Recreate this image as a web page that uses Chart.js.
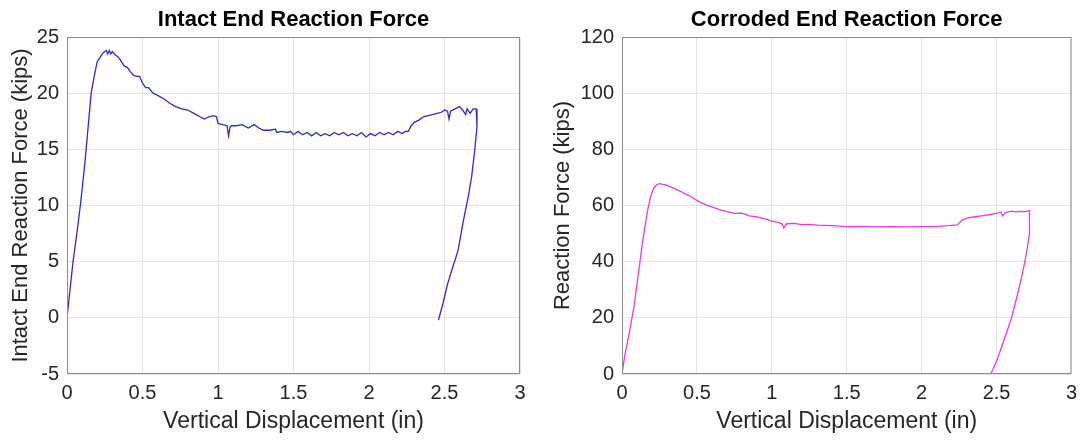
<!DOCTYPE html>
<html>
<head>
<meta charset="utf-8">
<script src="https://cdn.jsdelivr.net/npm/chart.js@4.4.1/dist/chart.umd.min.js"></script>
<style>
  html, body { margin: 0; padding: 0; background: #fff; }
  .wrap { position: absolute; top: 0; width: 542px; height: 441px; }
  #leftWrap { left: 0; }
  #rightWrap { left: 542px; }
</style>
</head>
<body>
<div class="wrap" id="leftWrap"><canvas id="intactChart"></canvas></div>
<div class="wrap" id="rightWrap"><canvas id="corrodedChart"></canvas></div>
<script>
// Intact end: displacement (in) vs reaction force (kips)
const xIntact = [
  0, 0.02, 0.04, 0.07, 0.09, 0.12, 0.16, 0.18, 0.20, 0.22,
  0.24, 0.26, 0.27, 0.28, 0.29, 0.30, 0.32, 0.34, 0.36, 0.38,
  0.40, 0.42, 0.44, 0.46, 0.48, 0.50, 0.52, 0.54, 0.57, 0.60,
  0.64, 0.68, 0.72, 0.76, 0.80, 0.84, 0.88, 0.91, 0.94, 0.97,
  0.99, 1.00, 1.03, 1.06, 1.07, 1.08, 1.09, 1.12, 1.16, 1.20,
  1.24, 1.27, 1.30, 1.34, 1.38, 1.39, 1.42, 1.46, 1.48, 1.50,
  1.53, 1.56, 1.59, 1.62, 1.65, 1.68, 1.71, 1.74, 1.77, 1.80,
  1.83, 1.86, 1.89, 1.92, 1.95, 1.98, 2.01, 2.04, 2.07, 2.10,
  2.13, 2.16, 2.19, 2.22, 2.24, 2.26, 2.28, 2.30, 2.33, 2.36,
  2.39, 2.42, 2.45, 2.48, 2.50, 2.52, 2.53, 2.54, 2.57, 2.60,
  2.62, 2.64, 2.65, 2.67, 2.69, 2.71,
  2.715, 2.70, 2.68, 2.66, 2.62, 2.59, 2.55, 2.52, 2.49, 2.47, 2.46
];
const yIntact = [
  0, 2.5, 5.0, 8.0, 10.2, 14.0, 20.0, 21.5, 22.8, 23.2,
  23.6, 23.8, 23.5, 23.8, 23.5, 23.7, 23.4, 23.2, 22.8, 22.4,
  22.3, 21.9, 21.6, 21.5, 21.5, 20.9, 20.5, 20.5, 20.0, 19.8,
  19.5, 19.1, 18.8, 18.6, 18.5, 18.2, 17.9, 17.7, 17.9, 18.0,
  17.9, 17.3, 17.2, 17.1, 16.2, 17.0, 17.1, 17.1, 17.2, 16.9,
  17.2, 16.9, 16.7, 16.7, 16.8, 16.5, 16.6, 16.5, 16.6, 16.3,
  16.6, 16.3, 16.5, 16.2, 16.5, 16.2, 16.4, 16.2, 16.5, 16.3,
  16.5, 16.2, 16.4, 16.2, 16.5, 16.1, 16.4, 16.2, 16.5, 16.3,
  16.5, 16.3, 16.6, 16.4, 16.6, 16.6, 17.1, 17.4, 17.6, 17.9,
  18.0, 18.1, 18.2, 18.3, 18.5, 18.4, 17.7, 18.4, 18.6, 18.8,
  18.5, 18.1, 18.6, 18.2, 18.6, 18.6,
  17.0, 14.9, 12.6, 11.0, 8.3, 6.0, 4.3, 3.0, 1.3, 0.3, -0.2
];

// Corroded end
const xCorroded = [
  0, 0.02, 0.05, 0.08, 0.11, 0.14, 0.17, 0.19, 0.21, 0.23,
  0.25, 0.27, 0.29, 0.31, 0.34, 0.37, 0.40, 0.43, 0.46, 0.49,
  0.52, 0.56, 0.60, 0.65, 0.70, 0.75, 0.80, 0.85, 0.90, 0.95,
  1.00, 1.04, 1.07, 1.08, 1.10, 1.15, 1.20, 1.25, 1.30, 1.40,
  1.50, 1.60, 1.70, 1.80, 1.90, 2.00, 2.10, 2.18, 2.24, 2.27,
  2.31, 2.36, 2.41, 2.46, 2.50, 2.53, 2.54, 2.56, 2.60, 2.63,
  2.66, 2.69, 2.72, 2.72, 2.70, 2.67, 2.64, 2.60, 2.57, 2.53,
  2.50, 2.47, 2.46
];
const yCorroded = [
  0, 7, 15, 24, 36, 48, 58, 63, 66, 67.3,
  67.8, 67.5, 67.3, 67.0, 66.3, 65.5, 64.8, 63.9, 63.2, 62.1,
  61.2, 60.2, 59.5, 58.5, 57.8, 57.2, 57.3, 56.3, 55.9, 55.3,
  54.4, 54.0, 53.4, 52.0, 53.5, 53.6, 53.2, 53.3, 53.0, 52.8,
  52.5, 52.6, 52.4, 52.5, 52.4, 52.5, 52.6, 52.8, 53.1, 54.8,
  55.6, 56.0, 56.4, 56.8, 57.2, 57.6, 56.3, 57.5, 58.0, 57.7,
  57.9, 57.8, 58.2, 50, 43, 35, 28.3, 20, 15.2, 9,
  4.5, 1, 0
];

const xTicks = [0, 0.5, 1, 1.5, 2, 2.5, 3];
const yTicksIntact = [-5, 0, 5, 10, 15, 20, 25];
const yTicksCorroded = [0, 20, 40, 60, 80, 100, 120];

const FONT = '"Liberation Sans", Arial, sans-serif';
const TEXT = '#262626';

function toPoints(xs, ys) {
  return xs.map((x, i) => ({ x: x, y: ys[i] }));
}

// full box + matlab-style title centred over the axes
const boxPlugin = {
  id: 'box',
  afterDraw(chart, args, opts) {
    const { ctx, chartArea: a } = chart;
    ctx.save();
    ctx.strokeStyle = '#8c8c8c';
    ctx.lineWidth = 1;
    ctx.strokeRect(a.left + 0.5, a.top + 0.5, a.right - a.left - 1, a.bottom - a.top - 1);
    ctx.fillStyle = '#000';
    ctx.font = 'bold 22px ' + FONT;
    ctx.textAlign = 'center';
    ctx.textBaseline = 'alphabetic';
    ctx.fillText(opts.text, (a.left + a.right) / 2, a.top - 11);
    ctx.restore();
  }
};

function makeChart(id, xs, ys, color, yTicks, yTitle, title, yWidth, padRight) {
  const ctx = document.getElementById(id).getContext('2d');
  return new Chart(ctx, {
    type: 'scatter',
    data: {
      datasets: [{
        data: toPoints(xs, ys),
        showLine: true,
        borderColor: color,
        borderWidth: 1.3,
        pointRadius: 0,
        tension: 0
      }]
    },
    options: {
      responsive: true,
      maintainAspectRatio: false,
      animation: false,
      layout: { padding: { top: 37, right: padRight, left: 0, bottom: 0 } },
      plugins: {
        legend: { display: false },
        tooltip: { enabled: false },
        box: { text: title }
      },
      scales: {
        x: {
          type: 'linear',
          min: xTicks[0],
          max: xTicks[xTicks.length - 1],
          afterBuildTicks: s => { s.ticks = xTicks.map(v => ({ value: v })); },
          afterFit: s => { s.height = 67; },
          grid: { color: '#e3e3e3', drawTicks: false },
          border: { display: false },
          ticks: { color: TEXT, font: { family: FONT, size: 20 }, padding: 7, maxRotation: 0,
                   callback: v => String(v) },
          title: { display: true, text: 'Vertical Displacement (in)', color: TEXT,
                   font: { family: FONT, size: 23 }, padding: { top: 0, bottom: 6 } }
        },
        y: {
          type: 'linear',
          min: yTicks[0],
          max: yTicks[yTicks.length - 1],
          afterBuildTicks: s => { s.ticks = yTicks.map(v => ({ value: v })); },
          afterFit: s => { s.width = yWidth; },
          grid: { color: '#e3e3e3', drawTicks: false },
          border: { display: false },
          ticks: { color: TEXT, font: { family: FONT, size: 20 }, padding: 8,
                   callback: v => String(v) },
          title: { display: true, text: yTitle, color: TEXT,
                   font: { family: FONT, size: 22 }, padding: { top: 8, bottom: 0 } }
        }
      }
    },
    plugins: [boxPlugin]
  });
}

makeChart('intactChart', xIntact, yIntact, '#2b2bd6', yTicksIntact,
  'Intact End Reaction Force (kips)', 'Intact End Reaction Force', 67, 22);
makeChart('corrodedChart', xCorroded, yCorroded, '#e23de6', yTicksCorroded,
  'Reaction Force (kips)', 'Corroded End Reaction Force', 80, 7);
</script>
</body>
</html>
